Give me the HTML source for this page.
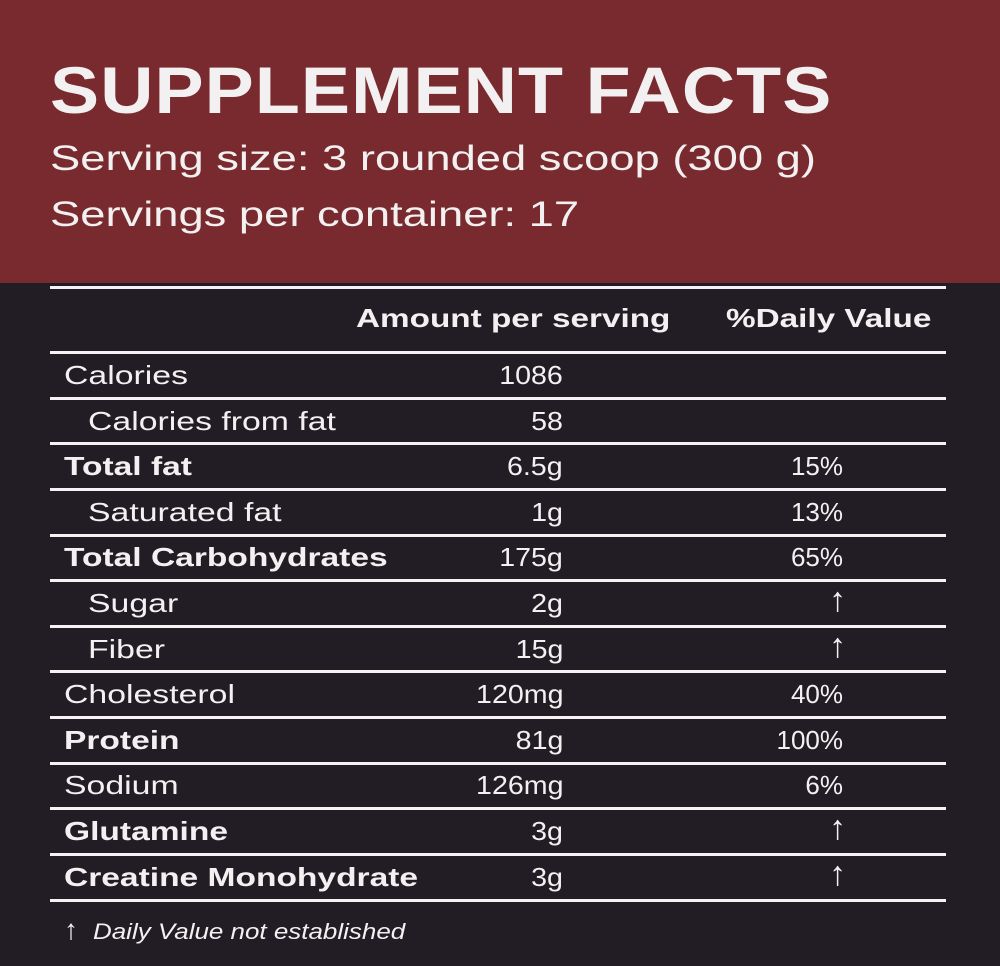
<!DOCTYPE html>
<html><head><style>
body{margin:0;width:1000px;height:966px;background:#221d25;font-family:"Liberation Sans",sans-serif;color:#f2f0f0;position:relative;overflow:hidden}
.top{position:absolute;left:0;top:0;width:1000px;height:283px;background:#782a2e}
.t{position:absolute;white-space:nowrap;transform-origin:left center}
.l{position:absolute;left:50px;width:896px;height:3px;background:#f4f2f2}
.r{position:absolute;font-size:26px;white-space:nowrap;line-height:30px;transform:scaleX(1.2);transform-origin:left center}
.rr{transform-origin:right center}
.b{font-weight:bold}
</style></head><body>
<div class="top"></div>
<div class="t b" style="left:50px;top:52px;font-size:66px;letter-spacing:1px;line-height:76px;transform:scaleX(1.115)">SUPPLEMENT FACTS</div>
<div class="t" style="left:50px;top:138px;font-size:35px;line-height:42px;transform:scaleX(1.295)">Serving size: 3 rounded scoop (300 g)</div>
<div class="t" style="left:50px;top:194px;font-size:35px;line-height:42px;transform:scaleX(1.295)">Servings per container: 17</div>
<div class="l" style="top:286px"></div>
<div class="r b" style="left:356px;top:303px;transform:scaleX(1.28)">Amount per serving</div>
<div class="r b" style="left:726px;top:303px;transform:scaleX(1.28)">%Daily Value</div>
<div class="l" style="top:351px"></div>
<div class="l" style="top:397px"></div>
<div class="l" style="top:442px"></div>
<div class="l" style="top:488px"></div>
<div class="l" style="top:534px"></div>
<div class="l" style="top:579px"></div>
<div class="l" style="top:625px"></div>
<div class="l" style="top:670px"></div>
<div class="l" style="top:716px"></div>
<div class="l" style="top:762px"></div>
<div class="l" style="top:807px"></div>
<div class="l" style="top:853px"></div>
<div class="l" style="top:899px"></div>
<div id="rows"></div>
<script>
var d=[["Calories","1086","",0,0],["Calories from fat","58","",0,1],["Total fat","6.5g","15%",1,0],["Saturated fat","1g","13%",0,1],["Total Carbohydrates","175g","65%",1,0],["Sugar","2g","↑",0,1],["Fiber","15g","↑",0,1],["Cholesterol","120mg","40%",0,0],["Protein","81g","100%",1,0],["Sodium","126mg","6%",0,0],["Glutamine","3g","↑",1,0],["Creatine Monohydrate","3g","↑",1,0]];
var h="";
d.forEach(function(r,i){var y=360+i*45.6;
h+='<div class="r'+(r[3]?' b':'')+'" style="left:'+(r[4]?88:64)+'px;top:'+y+'px;transform:scaleX('+(r[3]?1.29:1.3)+')">'+r[0]+'</div>';
h+='<div class="r rr" style="right:437px;top:'+y+'px;transform:scaleX(1.1)">'+r[1]+'</div>';
var a=r[2]=="↑";
h+='<div class="r rr" style="right:'+(a?154:157)+'px;top:'+(a?y-3:y)+'px;'+(a?'font-size:34px;font-weight:300;':'')+'transform:scaleX(1.0)">'+r[2]+'</div>';});
document.getElementById("rows").innerHTML=h;
</script>
<div class="t" style="left:64px;top:916px;font-size:28px;line-height:28px">↑</div>
<div class="t" style="left:93px;top:918px;font-size:22px;line-height:28px;transform:scaleX(1.18)"><i>Daily Value not established</i></div>
</body></html>
